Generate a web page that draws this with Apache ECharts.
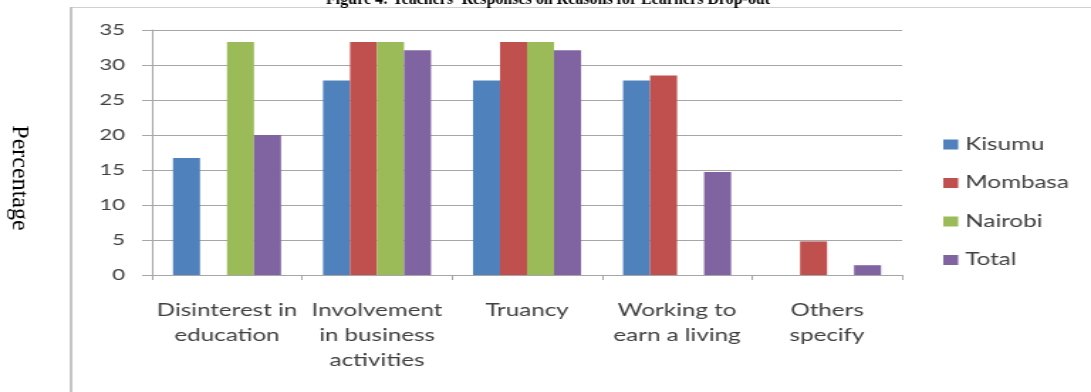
<!DOCTYPE html>
<html>
<head>
<meta charset="utf-8">
<style>
  html, body { margin: 0; padding: 0; background: #ffffff; overflow: hidden; }
  #wrap { width: 1091px; height: 392px; overflow: hidden; }
  /* the chart is laid out narrower and widened horizontally */
  #chart { width: 768px; height: 392px; transform-origin: 0 0; transform: scaleX(1.42057); }
</style>
<script src="https://cdn.jsdelivr.net/npm/echarts@6/dist/echarts.min.js"></script>
</head>
<body>
<div id="wrap"><div id="chart"></div></div>
<script>
// Reasons for learners dropping out, as reported by teachers (percentages)
const categories = [
  'Disinterest in\neducation',
  'Involvement\nin business\nactivities',
  'Truancy',
  'Working to\nearn a living',
  'Others\nspecify'
];
const kisumu  = [16.7, 27.8, 27.8, 27.8, 0];
const mombasa = [0, 33.3, 33.3, 28.5, 4.8];
const nairobi = [33.3, 33.3, 33.3, 0, 0];
const total   = [20.0, 32.1, 32.1, 14.7, 1.4];
const seriesNames = ['Kisumu', 'Mombasa', 'Nairobi', 'Total'];
const seriesColors = ['#4f81bd', '#c0504d', '#9bbb59', '#8064a2'];
const yTicks = { min: 0, max: 35, interval: 5 };

const STRETCH = 1091 / 768;   // horizontal widening applied by CSS
const unstretch = 1 / STRETCH;

const chart = echarts.init(document.getElementById('chart'), null, { renderer: 'canvas' });

const values = [kisumu, mombasa, nairobi, total];
const labelFont = 'Lato, "Open Sans", sans-serif';
const textColor = '#404040';
const lineColor = '#a6a6a6';

chart.setOption({
  animation: false,
  backgroundColor: '#ffffff',
  graphic: [
    {
      type: 'rect',
      shape: { x: 50, y: 7.5, width: 800, height: 400 },
      style: { fill: 'none', stroke: '#d0d0d0', lineWidth: 1 },
      z: -10
    },
    {
      type: 'rect',
      shape: { x: 49.3, y: 7, width: 1.4, height: 400 },
      style: { fill: '#b5b5b5' },
      z: -9
    },
    {
      type: 'text',
      x: 385.8,
      y: 8,
      scaleX: unstretch,
      style: {
        text: "Figure 4: Teachers' Responses on Reasons for Learners Drop-out",
        font: 'bold 16px "Liberation Serif", "Times New Roman", serif',
        fill: '#000000',
        align: 'center',
        verticalAlign: 'bottom'
      }
    },
    {
      type: 'text',
      x: 13,
      y: 178,
      rotation: -Math.PI / 2,
      scaleY: unstretch,
      style: {
        text: 'Percentage',
        font: '24px "Liberation Serif", "Times New Roman", serif',
        fill: '#000000',
        align: 'center',
        verticalAlign: 'middle'
      }
    }
  ],
  grid: { left: 107, right: 133, top: 30, bottom: 117, containLabel: false },
  legend: {
    orient: 'vertical',
    left: 659,
    top: 131,
    itemWidth: 10.5,
    itemHeight: 10,
    itemGap: 21.5,
    icon: 'rect',
    data: seriesNames,
    textStyle: { fontFamily: labelFont, fontSize: 17, color: textColor }
  },
  xAxis: {
    type: 'category',
    data: categories,
    axisLine: { show: true, lineStyle: { color: lineColor, width: 1 } },
    axisTick: { show: true, length: 5, alignWithLabel: false, lineStyle: { color: lineColor } },
    axisLabel: {
      interval: 0,
      margin: 23,
      fontFamily: labelFont,
      fontSize: 17,
      lineHeight: 25,
      color: textColor
    },
    splitLine: { show: false }
  },
  yAxis: {
    type: 'value',
    min: yTicks.min,
    max: yTicks.max,
    interval: yTicks.interval,
    axisLine: { show: true, lineStyle: { color: lineColor, width: 1 } },
    axisTick: { show: true, length: 7, inside: false, lineStyle: { color: lineColor } },
    axisLabel: {
      margin: 19,
      fontFamily: labelFont,
      fontSize: 15.5,
      color: textColor
    },
    splitLine: { show: true, lineStyle: { color: lineColor, width: 1 } }
  },
  series: seriesNames.map((name, i) => ({
    name: name,
    type: 'bar',
    data: values[i],
    barGap: '0%',
    barCategoryGap: '28%',
    itemStyle: { color: seriesColors[i] }
  }))
});
</script>
</body>
</html>
